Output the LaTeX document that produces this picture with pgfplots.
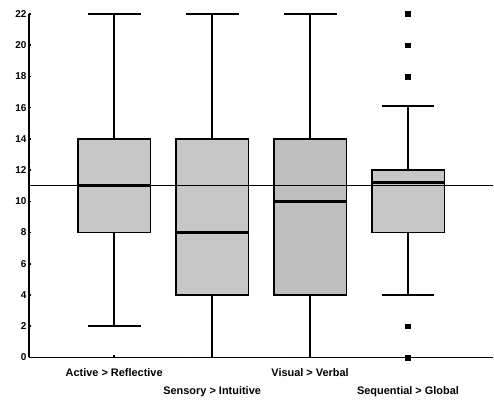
\documentclass[border=0pt]{standalone}
\usepackage{fontspec}
\setmainfont{Liberation Sans}
\usepackage{pgfplots}
\pgfplotsset{compat=1.18}
\usepgfplotslibrary{statistics}
\begin{document}
\begin{tikzpicture}
\begin{axis}[
  scale only axis, width=465bp, height=344bp,
  xmin=-0.87, xmax=3.87, ymin=0, ymax=22,
  axis x line*=bottom, axis y line*=left,
  axis line style={line width=1.5pt},
  clip=false,
  ytick={0,2,...,22},
  xtick={0,2}, xticklabels={Active > Reflective, Visual > Verbal},
  extra x ticks={1,3}, extra x tick labels={Sensory > Intuitive, Sequential > Global},
  extra x tick style={tick label style={yshift=-18bp}},
  xticklabel style={font=\fontsize{11}{13}\selectfont\bfseries, yshift=-8bp},
  yticklabel style={font=\fontsize{10}{12}\selectfont\bfseries, xshift=1bp},
  /pgf/number format/assume math mode=true,
  major tick length=2.5pt,
  tick style={black, line width=1.5pt},
  boxplot/draw direction=y,
  boxplot/every median/.style={line width=2.6pt},
  boxplot/box extend=0.74,
  boxplot/whisker extend=0.54,
]
\addplot[boxplot prepared={lower whisker=2, lower quartile=8, median=11, upper quartile=14, upper whisker=22, draw position=0}, fill=black!22, draw=black, line width=1.5pt] coordinates {};
\addplot[boxplot prepared={lower whisker=0, lower quartile=4, median=8, upper quartile=14, upper whisker=22, draw position=1}, fill=black!22, draw=black, line width=1.5pt] coordinates {};
\addplot[boxplot prepared={lower whisker=0, lower quartile=4, median=10, upper quartile=14, upper whisker=22, draw position=2}, fill=black!25, draw=black, line width=1.5pt] coordinates {};
\addplot[boxplot prepared={lower whisker=4, lower quartile=8, median=11.2, upper quartile=12, upper whisker=16.1, draw position=3}, fill=black!22, draw=black, line width=1.5pt] coordinates {};
\addplot[only marks, mark=square*, mark size=2.4pt, black] coordinates {(3,22) (3,20) (3,18) (3,2) (3,0)};
\addplot[black, line width=1.5pt] coordinates {(-0.87,11) (3.87,11)};
\path (rel axis cs:0,0) ++(-29bp,-44bp) coordinate (bbsw);
\path (rel axis cs:1,1) ++(0bp,14bp) coordinate (bbne);
\path (bbsw) rectangle (bbne);
\end{axis}
\end{tikzpicture}
\end{document}
